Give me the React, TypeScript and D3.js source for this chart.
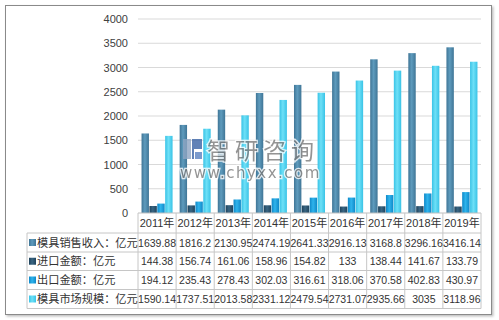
import { useEffect, useRef } from 'react';
import * as d3 from 'd3';

const years = ['2011年', '2012年', '2013年', '2014年', '2015年', '2016年', '2017年', '2018年', '2019年'];
const seriesNames = ['模具销售收入：亿元', '进口金额：亿元', '出口金额：亿元', '模具市场规模：亿元'];
const sales = [1639.88, 1816.2, 2130.95, 2474.19, 2641.33, 2916.13, 3168.8, 3296.16, 3416.14];
const imports = [144.38, 156.74, 161.06, 158.96, 154.82, 133, 138.44, 141.67, 133.79];
const exports = [194.12, 235.43, 278.43, 302.03, 316.61, 318.06, 370.58, 402.83, 430.97];
const market = [1590.14, 1737.51, 2013.58, 2331.12, 2479.54, 2731.07, 2935.66, 3035, 3118.96];
const yTicks = [0, 500, 1000, 1500, 2000, 2500, 3000, 3500, 4000];

// [dark edge, light middle] for each series' bar gradient
const colors: [string, string][] = [
  ['#3f7596', '#5e9bbd'],
  ['#1f435c', '#3a6683'],
  ['#0f88c8', '#2fb4ec'],
  ['#39c3e6', '#6ee0f7'],
];

export default function App() {
  const svgRef = useRef<SVGSVGElement>(null);

  useEffect(() => {
    document.body.style.margin = '0';
    if (!svgRef.current) return;
    const W = 499, H = 320;
    const PL = 138, PR = 481, PT = 19, PB = 213;
    const rowH = [20, 19, 18.5, 19, 19];
    const legendX = 27;
    const numFont = '"Liberation Sans", Arial, sans-serif';

    const svg = d3.select(svgRef.current);
    svg.selectAll('*').remove();
    svg.attr('width', W).attr('height', H).attr('viewBox', `0 0 ${W} ${H}`);

    svg.append('rect').attr('width', W).attr('height', H).attr('fill', '#fff');

    const defs = svg.append('defs');
    colors.forEach((c, i) => {
      const g = defs.append('linearGradient').attr('id', `barGrad${i}`)
        .attr('x1', 0).attr('y1', 0).attr('x2', 1).attr('y2', 0);
      g.append('stop').attr('offset', '0%').attr('stop-color', c[0]);
      g.append('stop').attr('offset', '45%').attr('stop-color', c[1]);
      g.append('stop').attr('offset', '100%').attr('stop-color', c[0]);
    });
    const shadow = defs.append('filter').attr('id', 'frameShadow').attr('x', -0.05).attr('y', -0.05).attr('width', 1.1).attr('height', 1.1);
    shadow.append('feDropShadow').attr('dx', 1.5).attr('dy', 1.5).attr('stdDeviation', 1.2).attr('flood-color', '#000').attr('flood-opacity', 0.25);

    // Outer frame
    svg.append('rect')
      .attr('x', 5.5).attr('y', 5.5).attr('width', 486).attr('height', 309)
      .attr('fill', '#fff').attr('stroke', '#8a8a8a').attr('stroke-width', 1)
      .attr('filter', 'url(#frameShadow)');

    const x0 = d3.scaleBand<string>().domain(years).range([PL, PR]).padding(0);
    const x1 = d3.scaleBand<number>().domain([0, 1, 2, 3]).range([0, x0.bandwidth()])
      .paddingInner(0.06).paddingOuter(0.45);
    const y = d3.scaleLinear().domain([0, 4000]).range([PB, PT]);

    // Gridlines + y labels
    yTicks.forEach(t => {
      if (t > 0) {
        svg.append('line')
          .attr('x1', PL).attr('x2', PR).attr('y1', y(t)).attr('y2', y(t))
          .attr('stroke', '#d9d9d9').attr('stroke-width', 1);
      }
      svg.append('text')
        .attr('x', 128).attr('y', y(t) + 4)
        .attr('text-anchor', 'end').attr('font-size', 11)
        .attr('font-family', numFont)
        .attr('fill', '#404040').text(t);
    });

    const data = [sales, imports, exports, market];
    years.forEach((yr, i) => {
      data.forEach((vals, s) => {
        const v = vals[i];
        svg.append('rect')
          .attr('x', (x0(yr) ?? 0) + (x1(s) ?? 0))
          .attr('y', y(v))
          .attr('width', x1.bandwidth())
          .attr('height', y(0) - y(v))
          .attr('fill', `url(#barGrad${s})`);
      });
    });

    // Data table
    const rowTops: number[] = [];
    let acc = PB;
    rowH.forEach(h => { rowTops.push(acc); acc += h; });
    const tableBottom = acc;
    const lineColor = '#c6c6c6';

    svg.append('line').attr('x1', PL).attr('x2', PR).attr('y1', PB).attr('y2', PB)
      .attr('stroke', '#bfbfbf');
    for (let r = 1; r <= rowH.length; r++) {
      const yy = r < rowH.length ? rowTops[r] : tableBottom;
      svg.append('line').attr('x1', legendX).attr('x2', PR).attr('y1', yy).attr('y2', yy)
        .attr('stroke', lineColor);
    }
    years.forEach(yr => {
      const xx = x0(yr) ?? 0;
      svg.append('line').attr('x1', xx).attr('x2', xx).attr('y1', PB).attr('y2', tableBottom)
        .attr('stroke', lineColor);
    });
    svg.append('line').attr('x1', PR).attr('x2', PR).attr('y1', PB).attr('y2', tableBottom)
      .attr('stroke', lineColor);
    svg.append('line').attr('x1', legendX).attr('x2', legendX).attr('y1', rowTops[1]).attr('y2', tableBottom)
      .attr('stroke', lineColor);

    years.forEach(yr => {
      svg.append('text')
        .attr('x', (x0(yr) ?? 0) + x0.bandwidth() / 2).attr('y', rowTops[0] + rowH[0] / 2 + 4)
        .attr('text-anchor', 'middle').attr('font-size', 11)
        .attr('font-family', `${numFont}, "Noto Sans CJK SC"`)
        .attr('fill', '#333').text(yr);
    });

    data.forEach((vals, s) => {
      const top = rowTops[s + 1], h = rowH[s + 1];
      const cy = top + h / 2;
      svg.append('rect').attr('x', 29).attr('y', cy - 3.5).attr('width', 7).attr('height', 7)
        .attr('fill', `url(#barGrad${s})`);
      svg.append('text')
        .attr('x', 37).attr('y', cy + 4).attr('font-size', 11.2)
        .attr('font-family', '"Noto Sans CJK SC", sans-serif')
        .attr('fill', '#333').text(seriesNames[s]);
      vals.forEach((v, i) => {
        svg.append('text')
          .attr('x', (x0(years[i]) ?? 0) + x0.bandwidth() / 2).attr('y', cy + 4)
          .attr('text-anchor', 'middle').attr('font-size', 10.5)
          .attr('font-family', numFont)
          .attr('fill', '#333').text(String(v));
      });
    });

    // Watermark
    const wm = svg.append('g').attr('opacity', 0.8);
    wm.append('rect').attr('x', 183).attr('y', 139).attr('width', 8).attr('height', 20).attr('fill', '#8fa6c4');
    wm.append('path').attr('d', 'M192,139 h10 v10 h-8 v10 h-2 z').attr('fill', '#3a63a6');
    wm.append('path').attr('d', 'M195,152 h7 v7 h-7 z').attr('fill', '#5b82c0');
    wm.append('text')
      .attr('x', 207).attr('y', 159).attr('font-size', 23)
      .attr('font-family', '"Noto Sans CJK SC", sans-serif')
      .attr('fill', '#7a7a7a').attr('stroke', '#fff').attr('stroke-width', 2.5)
      .attr('paint-order', 'stroke').attr('letter-spacing', 5)
      .text('智研咨询');
    wm.append('text')
      .attr('x', 180).attr('y', 178).attr('font-size', 15)
      .attr('font-family', '"DejaVu Sans", sans-serif')
      .attr('fill', '#7a7a7a').attr('stroke', '#fff').attr('stroke-width', 2.5)
      .attr('paint-order', 'stroke').attr('letter-spacing', 1.5)
      .text('www.chyxx.com');
  }, []);

  return <svg ref={svgRef} style={{ display: 'block' }} />;
}
